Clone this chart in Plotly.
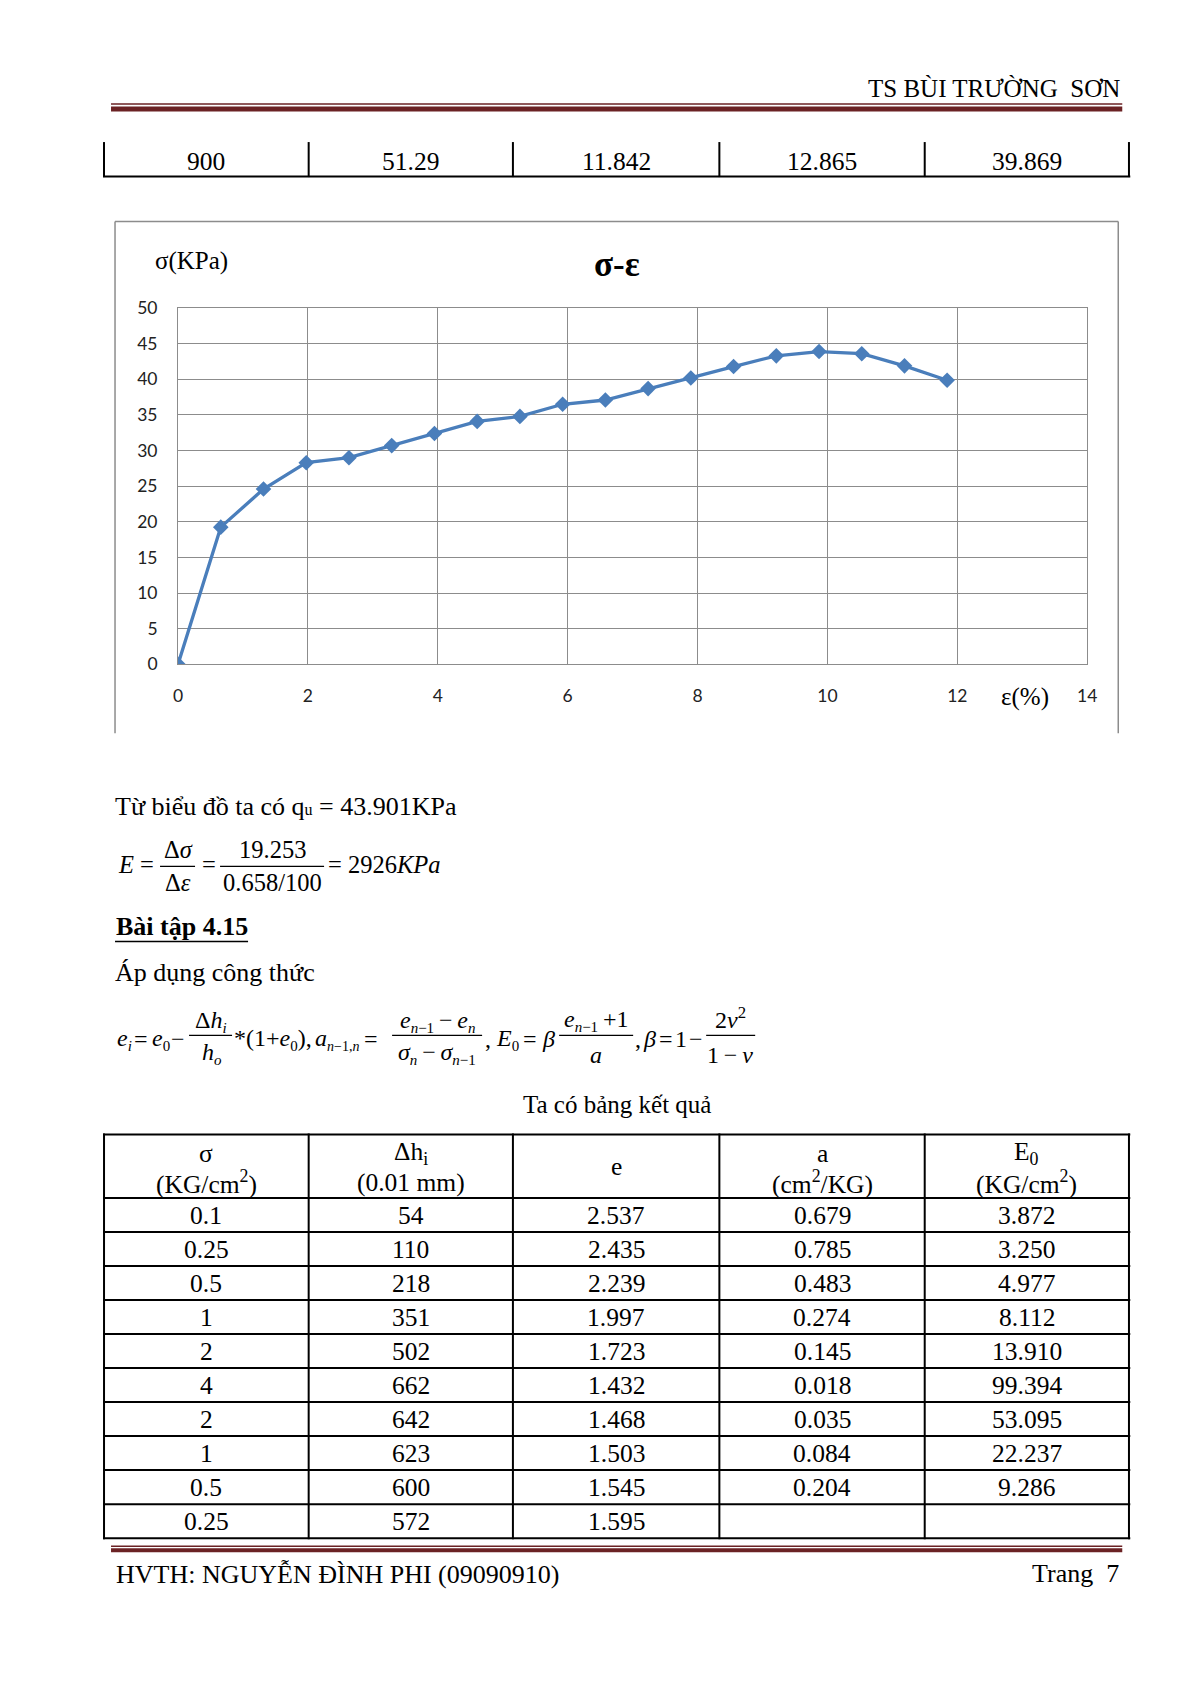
import plotly.graph_objects as go

# ---------------- data ----------------
strain = [0, 0.658, 1.316, 1.974, 2.632, 3.29, 3.948, 4.606, 5.264, 5.922,
          6.58, 7.238, 7.896, 8.554, 9.212, 9.87, 10.528, 11.186, 11.842]
stress = [0, 19.253, 24.6, 28.3, 29.0, 30.7, 32.4, 34.1, 34.8, 36.5,
          37.1, 38.7, 40.2, 41.8, 43.3, 43.901, 43.6, 41.9, 39.869]

x_ticks = [0, 2, 4, 6, 8, 10, 12, 14]
y_ticks = [0, 5, 10, 15, 20, 25, 30, 35, 40, 45, 50]

top_row = ["900", "51.29", "11.842", "12.865", "39.869"]

hdr_line1 = ["σ", "Δh<sub>i</sub>", "e", "a", "E<sub>0</sub>"]
hdr_line2 = ["(KG/cm<sup>2</sup>)", "(0.01 mm)", "", "(cm<sup>2</sup>/KG)", "(KG/cm<sup>2</sup>)"]
col_sigma = ["0.1", "0.25", "0.5", "1", "2", "4", "2", "1", "0.5", "0.25"]
col_dh = ["54", "110", "218", "351", "502", "662", "642", "623", "600", "572"]
col_e = ["2.537", "2.435", "2.239", "1.997", "1.723", "1.432", "1.468", "1.503", "1.545", "1.595"]
col_a = ["0.679", "0.785", "0.483", "0.274", "0.145", "0.018", "0.035", "0.084", "0.204", ""]
col_E0 = ["3.872", "3.250", "4.977", "8.112", "13.910", "99.394", "53.095", "22.237", "9.286", ""]

# ---------------- page helpers ----------------
FW, FH = 1175, 1669
SC, CX, CY = 0.987, 6, 11     # page placement compensation
SERIF = "Liberation Serif, Times New Roman, Times, serif"
SANS = "Lato, Open Sans, sans-serif"
MAROON = "#6b2224"
GRID = "#8c8c8c"
TS = "\u2009"  # thin space


def X(p):
    return ((p - CX) / SC) / FW


def Y(p):
    return 1 - ((p - CY) / SC) / FH


def sub(t, s=15):
    return "<sub><span style='font-size:%dpx'>%s</span></sub>" % (s, t)


shapes = []
annotations = []


def line(x0, y0, x1, y1, color="black", width=2):
    shapes.append(dict(type="line", xref="paper", yref="paper",
                       x0=X(x0), y0=Y(y0), x1=X(x1), y1=Y(y1),
                       line=dict(color=color, width=width)))


def rect(x0, y0, x1, y1, color):
    shapes.append(dict(type="rect", xref="paper", yref="paper",
                       x0=X(x0), y0=Y(y0), x1=X(x1), y1=Y(y1),
                       line=dict(width=0), fillcolor=color))


def text(t, x, y, size=24, xanchor="left", yanchor="middle", family=SERIF, color="black"):
    annotations.append(dict(text=t, x=X(x), y=Y(y), xref="paper", yref="paper",
                            xanchor=xanchor, yanchor=yanchor, showarrow=False,
                            font=dict(family=family, size=size, color=color),
                            borderpad=0))


# ---------------- header ----------------
text("TS BÙI TRƯỜNG  SƠN", 1122, 88, size=25, xanchor="right")
line(112, 104, 1123, 104, MAROON, 1.5)
rect(112, 106.5, 1123, 111.5, MAROON)

# ---------------- previous-page table row ----------------
cols_x = [105, 309.6, 513.8, 720.2, 925.5, 1129.7]
col_c = [(cols_x[i] + cols_x[i + 1]) / 2 for i in range(5)]
for cx in cols_x:
    line(cx, 142, cx, 177)
line(104, 176.5, 1131, 176.5)
for i, v in enumerate(top_row):
    text(v, col_c[i], 161, size=25.5, xanchor="center")

# ---------------- chart frame ----------------
line(116, 221.5, 116, 733, GRID, 1.5)
line(116, 221.5, 1119, 221.5, GRID, 1.5)
line(1119, 221.5, 1119, 733, GRID, 1.5)

text("σ(KPa)", 155, 261, size=25)
text("<b>σ-ε</b>", 618, 264, size=35, xanchor="center")
text("ε(%)", 1026, 697, size=25, xanchor="center")

# ---------------- text below chart ----------------
text("Từ biểu đồ ta có q<span style='font-size:16px'>u</span> = 43.901KPa", 115, 806, size=26)

# E = Δσ/Δε = 19.253/(0.658/100) = 2926KPa
FE = 24.5
text("<i>E</i> =", 118, 864, size=FE)
text("Δ<i>σ</i>", 179, 849, size=FE, xanchor="center")
line(161, 866, 196, 866, "black", 1.2)
text("Δ<i>ε</i>", 179, 882, size=FE, xanchor="center")
text("=", 210, 864, size=FE, xanchor="center")
text("19.253", 273, 849, size=FE, xanchor="center")
line(221, 866, 325, 866, "black", 1.2)
text("0.658/100", 273, 882, size=FE, xanchor="center")
text("= 2926<i>KPa</i>", 328, 864, size=FE)

# Bài tập 4.15
text("<b>Bài tập 4.15</b>", 116, 926, size=26)
line(116, 941, 249, 941, "black", 1.5)

text("Áp dụng công thức", 115, 972, size=26)

# formula line
FF = 24
MY = 1039
BAR = 1035
NUM = 1021
DEN = 1053
# e_i = e_0 -
text("<i>e</i>" + sub("<i>i</i>"), 117, MY, size=FF)
text("=", 142, MY, size=FF, xanchor="center")
text("<i>e</i>" + sub("0"), 152, MY, size=FF)
text("−", 179, MY, size=FF, xanchor="center")
# Δh_i / h_o
text("Δ<i>h</i>" + sub("<i>i</i>"), 212, NUM, size=FF, xanchor="center")
line(190, BAR, 233, BAR, "black", 1.2)
text("<i>h</i>" + sub("<i>o</i>"), 213, DEN, size=FF, xanchor="center")
# *(1+e_0), a_{n-1,n} =
text("*(1+<i>e</i>" + sub("0") + "),", 234, MY, size=FF)
text("<i>a</i>" + sub("<i>n</i>−1,<i>n</i>", 14), 315, MY, size=FF)
text("=", 372, MY, size=FF, xanchor="center")
# (e_{n-1} - e_n)/(σ_n - σ_{n-1})
text("<i>e</i>" + sub("<i>n</i>−1") + TS + "−" + TS + "<i>e</i>" + sub("<i>n</i>"),
     438, NUM, size=FF, xanchor="center")
line(393, BAR, 483, BAR, "black", 1.2)
text("<i>σ</i>" + sub("<i>n</i>") + TS + "−" + TS + "<i>σ</i>" + sub("<i>n</i>−1"),
     438, DEN, size=FF, xanchor="center")
# , E_0 = β
text(",", 485, MY, size=FF)
text("<i>E</i>" + sub("0"), 496, MY, size=FF)
text("=", 531, MY, size=FF, xanchor="center")
text("<i>β</i>", 542, MY, size=FF)
# (e_{n-1}+1)/a
text("<i>e</i>" + sub("<i>n</i>−1") + TS + "+1", 597, 1020, size=FF, xanchor="center")
line(560, BAR, 634, BAR, "black", 1.2)
text("<i>a</i>", 597, 1055, size=FF, xanchor="center")
# , β = 1 -
text(",", 635, MY, size=FF)
text("<i>β</i>", 643, MY, size=FF)
text("=", 667, MY, size=FF, xanchor="center")
text("1", 682, MY, size=FF, xanchor="center")
text("−", 697, MY, size=FF, xanchor="center")
# 2ν²/(1-ν)
text("2<i>ν</i><sup>2</sup>", 731, 1018, size=FF, xanchor="center")
line(707, BAR, 756, BAR, "black", 1.2)
text("1" + TS + "−" + TS + "<i>ν</i>", 731, 1055, size=FF, xanchor="center")

text("Ta có bảng kết quả", 618, 1104, size=25, xanchor="center")

# ---------------- results table ----------------
rows_y = [1134, 1197.5, 1231.5, 1265.5, 1299.5, 1333.5, 1367.5,
          1401.5, 1435.5, 1469.5, 1503.5, 1537.5]
for ry in rows_y:
    line(104, ry, 1131, ry)
for cx in cols_x:
    line(cx, rows_y[0] - 1, cx, rows_y[-1] + 1)

for i in range(5):
    if hdr_line2[i]:
        text(hdr_line1[i], col_c[i], 1153, size=25.5, xanchor="center")
        text(hdr_line2[i], col_c[i], 1182, size=25.5, xanchor="center")
    else:
        text(hdr_line1[i], col_c[i], 1166, size=25.5, xanchor="center")

columns = [col_sigma, col_dh, col_e, col_a, col_E0]
for r in range(10):
    cy = (rows_y[r + 1] + rows_y[r + 2]) / 2
    for c in range(5):
        if columns[c][r]:
            text(columns[c][r], col_c[c], cy, size=25.5, xanchor="center")

# ---------------- footer ----------------
line(112, 1545.5, 1123, 1545.5, MAROON, 1.5)
rect(112, 1547.5, 1123, 1551.5, MAROON)
text("HVTH: NGUYỄN ĐÌNH PHI (09090910)", 116, 1573, size=26)
text("Trang  7", 1121, 1573, size=26, xanchor="right")

# ---------------- figure ----------------
fig = go.Figure()
fig.add_trace(go.Scatter(
    x=strain, y=stress, mode="lines+markers",
    line=dict(color="#4a7ebb", width=3.3),
    marker=dict(symbol="diamond", size=12, color="#4a7ebb"),
    showlegend=False, hoverinfo="skip"))

axis_common = dict(showgrid=True, gridcolor=GRID, gridwidth=1, showline=True,
                   linecolor=GRID, linewidth=1, mirror=True, zeroline=False,
                   ticks="", fixedrange=True,
                   tickfont=dict(family=SANS, size=17.5, color="#222222"))

fig.update_layout(
    width=FW, height=FH,
    margin=dict(l=0, r=0, t=0, b=0),
    paper_bgcolor="white", plot_bgcolor="white",
    xaxis=dict(domain=[X(179), X(1088)], range=[0, 14], tickvals=x_ticks,
               ticklabelstandoff=16, **axis_common),
    yaxis=dict(domain=[Y(664), Y(308)], range=[0, 50], tickvals=y_ticks,
               ticklabelstandoff=16, **axis_common),
    shapes=shapes,
    annotations=annotations,
)

fig.write_html("out.html")
